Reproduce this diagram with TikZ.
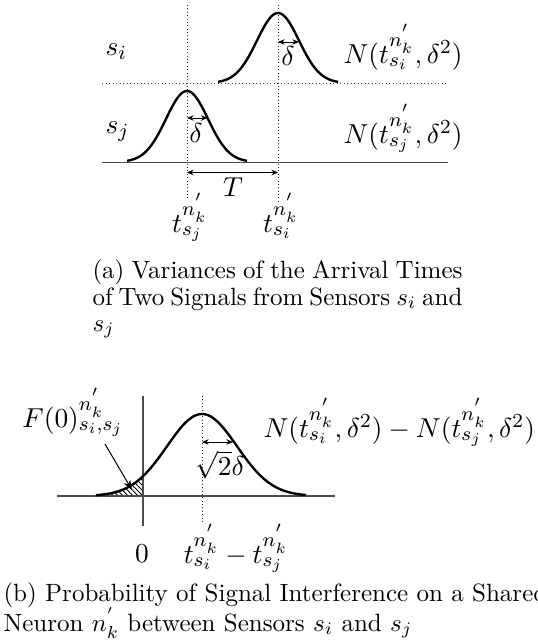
\documentclass[tikz,border=0pt]{standalone}
\usetikzlibrary{arrows.meta,patterns.meta}
\begin{document}
\begin{tikzpicture}[x=0.4pt,y=-0.4pt,
  curve/.style={line width=0.95pt, black},
  axisline/.style={line width=0.65pt, black!70},
  guide/.style={densely dotted, line width=0.35pt, black!85},
  hguide/.style={densely dotted, line width=0.4pt, black!75},
  dim/.style={{Stealth[length=2.6pt,width=2.2pt]}-{Stealth[length=2.6pt,width=2.2pt]}, line width=0.4pt},
  lbl/.style={font=\fontsize{10.95}{13}\selectfont, inner sep=0pt},
  captext/.style={font=\fontsize{10}{12}\selectfont, inner sep=0pt, anchor=base west}]
\useasboundingbox (0,0) rectangle (538,640);
% ---------- part (a) ----------
\draw[guide] (187,5) -- (187,199);
\draw[guide] (278,5) -- (278,202);
\draw[hguide] (102,83) -- (448,83);
\draw[axisline] (102,162.5) -- (448,162.5);
\draw[curve] plot[domain=-60:60,samples=81] ({278+\x},{83-70*exp(-0.5*(\x/21)*(\x/21))});
\draw[curve] plot[domain=-60:60,samples=81] ({187+\x},{162-71*exp(-0.5*(\x/21)*(\x/21))});
\coordinate (ua) at (278,42);
\coordinate (ub) at (299,42);
\draw[dim] (ua) -- (ub);
\coordinate (la) at (187,118);
\coordinate (lb) at (207.5,118);
\draw[dim] (la) -- (lb);
\node[lbl] (du) at (288,56) {$\delta$};
\node[lbl] (dl) at (196,133) {$\delta$};
\coordinate (ta) at (187,172.5);
\coordinate (tb) at (278,172.5);
\draw[dim] (ta) -- (tb);
\node[lbl] (T) at (233,187) {$T$};
\node[lbl,anchor=base west] (si) at (105,55) {$s_i$};
\node[lbl,anchor=base west] (sj) at (105,133) {$s_j$};
\node[lbl,anchor=base west] (Ni) at (343,63) {$N(t^{n^{'}_k}_{s_i},\delta^2)$};
\node[lbl,anchor=base west] (Nj) at (343,143) {$N(t^{n^{'}_k}_{s_j},\delta^2)$};
\node[lbl,anchor=base] (tj) at (190,232) {$t^{n^{'}_k}_{s_j}$};
\node[lbl,anchor=base] (ti) at (281,232) {$t^{n^{'}_k}_{s_i}$};
\node[captext] (ca1) at (92,278) {\makebox[148pt][s]{(a) Variances of the Arrival Times}};
\node[captext] (ca2) at (92,305) {\makebox[148pt][s]{of Two Signals from Sensors $s_i$ and}};
\node[captext] (ca3) at (92,331) {$s_j$};
% ---------- part (b) ----------
\fill[pattern={Lines[angle=-45,distance=1.4pt,line width=0.35pt]}]
  (97,496) -- plot[domain=97:143,samples=30] (\x,{496-82*exp(-0.5*((\x-202)/35)*((\x-202)/35))}) -- (143,496) -- cycle;
\draw[axisline] (57,496) -- (335,496);
\draw[axisline] (143,396) -- (143,526);
\draw[guide] (202,396) -- (202,524);
\draw[curve] plot[domain=96:306,samples=101] (\x,{496-82*exp(-0.5*((\x-202)/35)*((\x-202)/35))});
\coordinate (sa) at (202,442);
\coordinate (sb) at (233,442);
\draw[dim] (sa) -- (sb);
\node[lbl] (sq) at (220,465) {$\sqrt{2}\delta$};
\node[lbl,anchor=base west] (F) at (22,427) {$F(0)^{n^{'}_k}_{s_i,s_j}$};
\coordinate (fa) at (105,444);
\coordinate (fb) at (132,490);
\draw[-{Stealth[length=4pt,width=3pt]}, line width=0.4pt] (fa) -- (fb);
\node[lbl,anchor=base west] (NN) at (263,437) {$N(t^{n^{'}_k}_{s_i},\delta^2)-N(t^{n^{'}_k}_{s_j},\delta^2)$};
\node[lbl,anchor=base] (zero) at (142,562) {$0$};
\node[lbl,anchor=base] (td) at (236,563) {$t^{n^{'}_k}_{s_i}-t^{n^{'}_k}_{s_j}$};
\node[captext] (cb1) at (3,601) {(b) Probability of Signal Interference on a Shared};
\node[captext] (cb2) at (3,631) {Neuron $n^{'}_k$ between Sensors $s_i$ and $s_j$};
\end{tikzpicture}
\end{document}
